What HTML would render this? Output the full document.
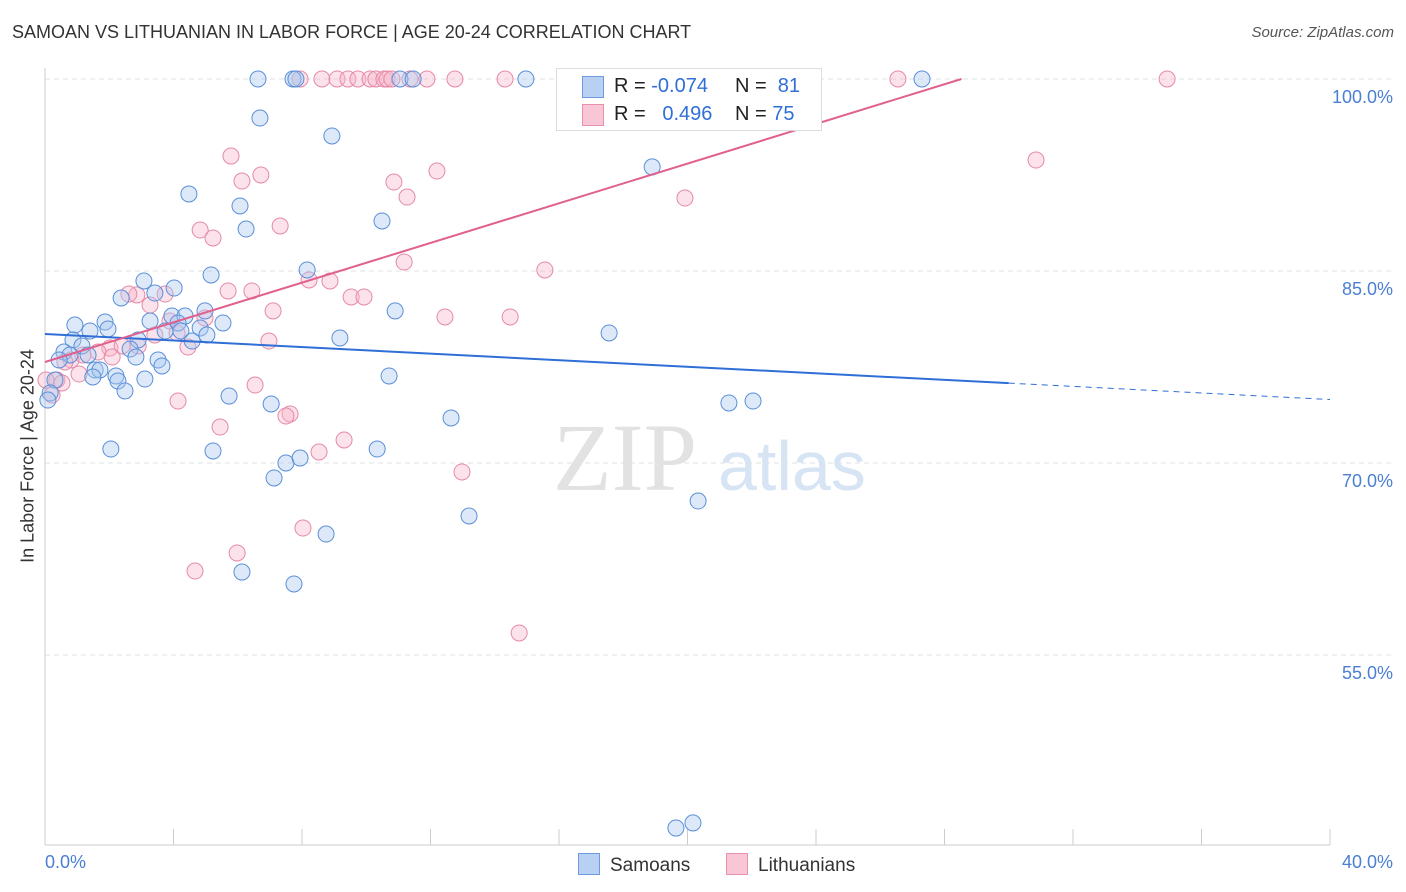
<!DOCTYPE html>
<html><head><meta charset="utf-8"><style>
body{margin:0;background:#fff;font-family:"Liberation Sans",sans-serif}
svg{display:block}
</style></head><body>
<svg id="c" width="1406" height="892" xmlns="http://www.w3.org/2000/svg"></svg>
<script>
const yTicks=[100,85,70,55];
const xTickLabels=["0.0%","40.0%"];
const blueX=[6.63,7.72,7.81,11.05,11.46,14.97,27.30,6.69,8.93,18.9,4.48,6.07,6.26,10.49,5.17,8.16,3.08,4.02,3.42,2.37,4.98,10.90,5.54,0.93,1.40,1.87,1.96,3.27,3.95,4.36,4.14,3.74,4.23,4.83,5.04,0.87,1.15,9.18,17.56,0.59,0.78,1.34,2.90,2.65,2.83,3.52,3.64,0.44,1.56,1.71,2.21,2.27,3.11,1.49,2.49,0.31,0.16,10.71,5.73,7.04,12.64,21.29,22.04,2.05,5.23,10.34,7.50,7.94,7.13,13.20,20.33,8.75,6.13,7.75,19.64,20.17,4.58,0.09];
const blueY=[100,100,100,100,100,100,100,96.95,95.55,93.13,91.02,90.08,88.28,88.91,84.69,85.08,84.22,83.67,83.28,82.89,81.88,81.88,80.94,80.78,80.31,81.02,80.47,81.09,81.48,81.48,80.94,80.31,80.31,80.55,80.0,79.61,79.14,79.77,80.16,78.67,78.44,78.44,79.61,78.91,78.28,78.05,77.58,78.05,77.27,77.27,76.80,76.41,76.56,76.72,75.63,76.48,75.47,76.80,75.23,74.61,73.52,74.69,74.84,71.09,70.94,71.09,70.0,70.39,68.83,65.86,67.03,64.45,61.48,60.55,41.48,41.88,79.53,74.92];
const pinkX=[7.94,8.62,9.09,9.43,9.74,10.12,10.30,10.55,10.65,10.80,11.36,11.89,12.76,14.32,16.59,22.63,26.55,34.93,5.79,30.85,6.72,6.13,10.86,12.20,11.27,19.92,4.83,5.23,7.32,11.18,15.56,8.22,8.87,5.70,6.44,2.86,3.74,2.61,3.27,9.53,9.93,7.10,12.45,14.48,3.89,4.98,4.11,3.42,6.97,2.90,4.45,2.02,2.40,1.65,1.18,0.81,0.62,2.09,1.06,0.37,0.53,6.54,4.14,7.63,7.50,5.45,9.31,8.53,12.98,8.03,5.98,4.67,14.76,0.22,0.03];
const pinkY=[100,100,100,100,100,100,100,100,100,100,100,100,100,100,100,100,100,100,93.98,93.67,92.5,92.03,91.95,92.81,90.78,90.70,88.20,87.58,88.52,85.70,85.08,84.30,84.22,83.44,83.44,83.13,83.20,83.20,82.34,82.97,82.97,81.88,81.41,81.41,81.09,81.33,80.16,80.0,79.53,79.14,79.06,78.98,79.14,78.67,78.44,78.05,77.89,78.28,76.95,76.48,76.25,76.09,74.84,73.83,73.67,72.81,71.80,70.86,69.30,64.92,62.97,61.56,56.72,75.31,76.48];
const blueLine=[80.08,-0.128];
const pinkLine=[77.89,0.775];
const NS="http://www.w3.org/2000/svg";
const svg=document.getElementById('c');
const X=v=>45+v*32.125, Y=v=>79+(100-v)*12.8;
function el(t,a,p){const e=document.createElementNS(NS,t);for(const k in a)e.setAttribute(k,a[k]);(p||svg).appendChild(e);return e;}
// gridlines
yTicks.forEach(t=>{const g=el('line',{x1:45,x2:1393,y1:Y(t),y2:Y(t),stroke:'#dde0e4','stroke-dasharray':'5,4'});


const l=el('text',{x:1393,y:Y(t)+24,'text-anchor':'end','font-size':18,fill:'#4a7fd4'});l.textContent=t.toFixed(1)+'%';

});
// axes
el('line',{x1:45,x2:45,y1:68,y2:845,stroke:'#ccc'});
el('line',{x1:45,x2:1330,y1:845,y2:845,stroke:'#ccc'});
for(let i=0;i<=10;i++){el('line',{x1:X(i*4),x2:X(i*4),y1:829,y2:845,stroke:'#ccc'});}
// watermark
const wm=el('text',{x:553,y:490,'font-size':96,'font-family':'Liberation Serif,serif',fill:'#e2e2e2'});wm.textContent='ZIP';


const wm2=el('text',{x:718,y:490,'font-size':70,fill:'#d6e4f4'});wm2.textContent='atlas';


// points
function pts(xs,ys,fill,stroke,name){xs.forEach((x,i)=>{const c=el('circle',{cx:X(x),cy:Y(ys[i]),r:8,fill:fill,'fill-opacity':0.4,stroke:stroke,'stroke-width':1});

});}
pts(pinkX,pinkY,'#f7b6ca','#e58aa8','lithuanian-point');
pts(blueX,blueY,'#a9c8f0','#5a8fd8','samoan-point');
// regression
const bl=el('line',{x1:X(0),y1:Y(blueLine[0]),x2:X(30),y2:Y(blueLine[0]+blueLine[1]*30),stroke:'#2f6fd6','stroke-width':2});


el('line',{x1:X(30),y1:Y(blueLine[0]+blueLine[1]*30),x2:X(40),y2:Y(blueLine[0]+blueLine[1]*40),stroke:'#2f6fd6','stroke-width':1,'stroke-dasharray':'6,5'});
const xe=(100-pinkLine[0])/pinkLine[1];
const pl=el('line',{x1:X(0),y1:Y(pinkLine[0]),x2:X(xe),y2:Y(100),stroke:'#e0608e','stroke-width':2});


</script>
<div style="position:absolute;left:12px;top:22px;font-size:18px;color:#333">SAMOAN VS LITHUANIAN IN LABOR FORCE | AGE 20-24 CORRELATION CHART</div>
<div style="position:absolute;right:12px;top:24px;font-size:15px;color:#555;font-style:italic">Source: ZipAtlas.com</div>
<div style="position:absolute;left:28px;top:456px;transform:translate(-50%,-50%) rotate(-90deg);font-size:18px;color:#333;white-space:nowrap">In Labor Force | Age 20-24</div>
<div style="position:absolute;left:45px;top:852px;font-size:18px;color:#4a7fd4">0.0%</div>
<div style="position:absolute;right:13px;top:852px;font-size:18px;color:#4a7fd4">40.0%</div>
<div style="position:absolute;left:556px;top:68px;width:264px;height:61px;background:#fff;border:1px solid #ddd;font-size:20px;color:#222">
 <div style="position:absolute;left:25px;top:7px;width:20px;height:20px;background:#b8d0f2;border:1px solid #6e9be0"></div>
 <div style="position:absolute;left:57px;top:6px">R = <span style="color:#2f6fd6">-0.074</span></div>
 <div style="position:absolute;left:178px;top:6px">N = <span style="color:#2f6fd6">&nbsp;81</span></div>
 <div style="position:absolute;left:25px;top:35px;width:20px;height:20px;background:#f9c6d6;border:1px solid #e890ae"></div>
 <div style="position:absolute;left:57px;top:34px">R = <span style="color:#2f6fd6">&nbsp;&nbsp;0.496</span></div>
 <div style="position:absolute;left:178px;top:34px">N = <span style="color:#2f6fd6">75</span></div>
</div>
<div style="position:absolute;left:578px;top:853px;font-size:19px;color:#333"><span style="display:inline-block;width:20px;height:20px;background:#b8d0f2;border:1px solid #6e9be0;vertical-align:-4px;margin-right:10px"></span>Samoans</div>
<div style="position:absolute;left:726px;top:853px;font-size:19px;color:#333"><span style="display:inline-block;width:20px;height:20px;background:#f9c6d6;border:1px solid #e890ae;vertical-align:-4px;margin-right:10px"></span>Lithuanians</div>
</body></html>
